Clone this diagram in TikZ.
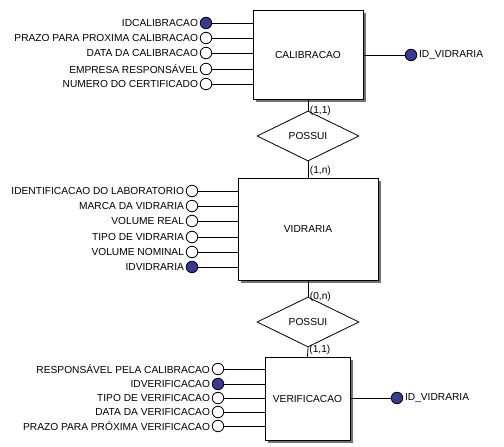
\documentclass[tikz,border=0pt]{standalone}
\usepackage{fontspec}
\setmainfont{Liberation Sans}
\usetikzlibrary{shapes.geometric,shadows}
\definecolor{chaveazul}{RGB}{56,56,150}
\begin{document}
\begin{tikzpicture}[x=1pt, y=-1pt, line width=0.8pt,
    font=\fontsize{10.2}{11}\selectfont,
    entidade/.style={draw, fill=white, inner sep=0pt,
      drop shadow={shadow xshift=2.5pt, shadow yshift=-2.5pt, fill=black!55, opacity=1}},
    relacao/.style={draw, diamond, aspect=2, inner sep=0pt,
      minimum width=102pt, minimum height=50pt},
    atrib/.style={draw, circle, fill=white, inner sep=0pt, minimum size=11.5pt},
    chave/.style={atrib, fill=chaveazul},
    rot/.style={anchor=east, inner sep=1.5pt},
    rotd/.style={anchor=west, inner sep=1.5pt},
    card/.style={inner sep=1.5pt}]
  \useasboundingbox (0,0) rectangle (504,447);
  % entidades
  \node[entidade, minimum width=110pt, minimum height=89pt] (calib) at (308,54.5) {CALIBRACAO};
  \node[entidade, minimum width=140pt, minimum height=102pt] (vidr) at (308,229) {VIDRARIA};
  \node[entidade, minimum width=85pt, minimum height=83pt] (verif) at (307.5,398.5) {VERIFICACAO};
  % relacionamentos
  \node[relacao] (poss1) at (308,136) {POSSUI};
  \node[relacao] (poss2) at (308,322) {POSSUI};
  \draw (calib.south) -- (poss1.north) node[card, anchor=west, pos=1] {(1,1)};
  \draw (poss1.south) -- (vidr.north) node[card, anchor=south west, pos=1] {(1,n)};
  \draw (vidr.south) -- (poss2.north) node[card, anchor=west, pos=1] {(0,n)};
  \draw (poss2.south) -- (verif.north) node[card, anchor=south west, pos=1] {(1,1)};
  % atributos de CALIBRACAO
  \node[chave] (idcal) at (206,23) {};
  \node[rot] (tidcal) at (idcal.west) {IDCALIBRACAO};
  \node[atrib] (prazocal) at (206,38) {};
  \node[rot] (tprazocal) at (prazocal.west) {PRAZO PARA PROXIMA CALIBRACAO};
  \node[atrib] (datacal) at (206,53) {};
  \node[rot] (tdatacal) at (datacal.west) {DATA DA CALIBRACAO};
  \node[atrib] (empresa) at (206,69) {};
  \node[rot] (tempresa) at (empresa.west) {EMPRESA RESPONSÁVEL};
  \node[atrib] (numcert) at (206,84) {};
  \node[rot] (tnumcert) at (numcert.west) {NUMERO DO CERTIFICADO};
  \node[chave] (idvid1) at (411,55) {};
  \node[rotd] (tidvid1) at (idvid1.east) {ID\_VIDRARIA};
  \draw (idcal) -- (calib.west |- idcal);
  \draw (prazocal) -- (calib.west |- prazocal);
  \draw (datacal) -- (calib.west |- datacal);
  \draw (empresa) -- (calib.west |- empresa);
  \draw (numcert) -- (calib.west |- numcert);
  \draw (calib.east |- idvid1) -- (idvid1);
  % atributos de VIDRARIA
  \node[atrib] (identlab) at (192,191) {};
  \node[rot] (tidentlab) at (identlab.west) {IDENTIFICACAO DO LABORATORIO};
  \node[atrib] (marca) at (192,206) {};
  \node[rot] (tmarca) at (marca.west) {MARCA DA VIDRARIA};
  \node[atrib] (volreal) at (192,221) {};
  \node[rot] (tvolreal) at (volreal.west) {VOLUME REAL};
  \node[atrib] (tipovid) at (192,237) {};
  \node[rot] (ttipovid) at (tipovid.west) {TIPO DE VIDRARIA};
  \node[atrib] (volnom) at (192,252) {};
  \node[rot] (tvolnom) at (volnom.west) {VOLUME NOMINAL};
  \node[chave] (idvid) at (192,267) {};
  \node[rot] (tidvid) at (idvid.west) {IDVIDRARIA};
  \draw (identlab) -- (vidr.west |- identlab);
  \draw (marca) -- (vidr.west |- marca);
  \draw (volreal) -- (vidr.west |- volreal);
  \draw (tipovid) -- (vidr.west |- tipovid);
  \draw (volnom) -- (vidr.west |- volnom);
  \draw (idvid) -- (vidr.west |- idvid);
  % atributos de VERIFICACAO
  \node[atrib] (respcal) at (218,369) {};
  \node[rot] (trespcal) at (respcal.west) {RESPONSÁVEL PELA CALIBRACAO};
  \node[chave] (idver) at (218,384) {};
  \node[rot] (tidver) at (idver.west) {IDVERIFICACAO};
  \node[atrib] (tipover) at (218,398) {};
  \node[rot] (ttipover) at (tipover.west) {TIPO DE VERIFICACAO};
  \node[atrib] (dataver) at (218,412) {};
  \node[rot] (tdataver) at (dataver.west) {DATA DA VERIFICACAO};
  \node[atrib] (prazover) at (218,426) {};
  \node[rot] (tprazover) at (prazover.west) {PRAZO PARA PRÓXIMA VERIFICACAO};
  \node[chave] (idvid2) at (397,398) {};
  \node[rotd] (tidvid2) at (idvid2.east) {ID\_VIDRARIA};
  \draw (respcal) -- (verif.west |- respcal);
  \draw (idver) -- (verif.west |- idver);
  \draw (tipover) -- (verif.west |- tipover);
  \draw (dataver) -- (verif.west |- dataver);
  \draw (prazover) -- (verif.west |- prazover);
  \draw (verif.east |- idvid2) -- (idvid2);
\end{tikzpicture}
\end{document}
